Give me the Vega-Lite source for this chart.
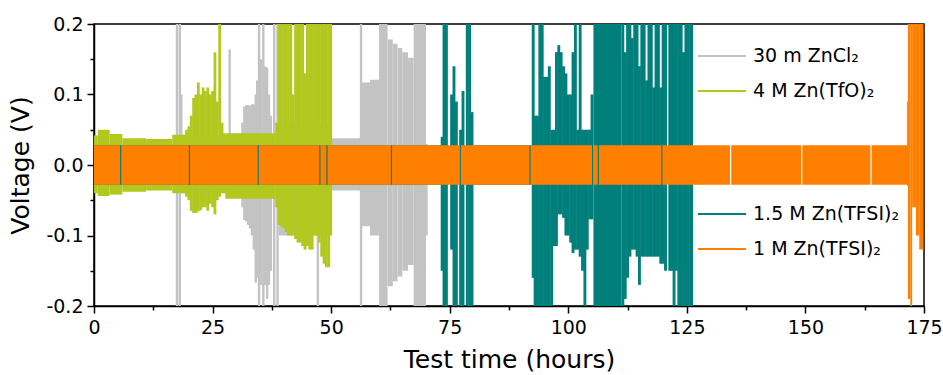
{
  "$schema": "https://vega.github.io/schema/vega-lite/v6.json",
  "width": 830,
  "height": 282,
  "autosize": {"type": "none"},
  "padding": {"left": 94, "top": 24, "right": 19, "bottom": 69},
  "background": "white",
  "config": {
    "view": {"stroke": "black", "strokeWidth": 1.5},
    "axis": {"domainColor": "black", "domainWidth": 1.5, "tickColor": "black", "tickWidth": 1.5, "labelColor": "black", "titleColor": "black", "labelFont": "DejaVu Sans", "titleFont": "DejaVu Sans", "labelFontSize": 19, "titleFontSize": 25, "titleFontWeight": "normal", "grid": false},
    "legend": {"symbolType": "stroke", "symbolSize": 2304, "symbolStrokeWidth": 2, "labelFont": "DejaVu Sans", "labelFontSize": 19, "labelColor": "black", "labelOffset": 6, "padding": 0, "labelLimit": 300}
  },
  "datasets": {
    "bands": [
      {"s": "Cl", "t": 0, "t2": 17.2, "lo": -0.03, "hi": 0.03},
      {"s": "Cl", "t": 18.4, "t2": 31, "lo": -0.04, "hi": 0.04},
      {"s": "Cl", "t": 39, "t2": 49.9, "lo": -0.1, "hi": 0.06},
      {"s": "Cl", "t": 50, "t2": 56.1, "lo": -0.036, "hi": 0.038},
      {"s": "Cl", "t": 56.5, "t2": 58.2, "lo": -0.087, "hi": 0.117},
      {"s": "Cl", "t": 58.2, "t2": 60.1, "lo": -0.1, "hi": 0.121},
      {"s": "Cl", "t": 60.1, "t2": 61.9, "lo": -0.2, "hi": 0.2},
      {"s": "Cl", "t": 61.9, "t2": 63, "lo": -0.172, "hi": 0.178},
      {"s": "Cl", "t": 63, "t2": 64, "lo": -0.165, "hi": 0.172},
      {"s": "Cl", "t": 64, "t2": 65, "lo": -0.158, "hi": 0.166},
      {"s": "Cl", "t": 65, "t2": 66.2, "lo": -0.15, "hi": 0.16},
      {"s": "Cl", "t": 66.2, "t2": 67.4, "lo": -0.142, "hi": 0.152},
      {"s": "Cl", "t": 67.4, "t2": 70, "lo": -0.2, "hi": 0.2},
      {"s": "TfO", "t": 0, "t2": 0.8, "lo": -0.04, "hi": 0.042},
      {"s": "TfO", "t": 0.8, "t2": 3.3, "lo": -0.044, "hi": 0.05},
      {"s": "TfO", "t": 3.3, "t2": 6, "lo": -0.042, "hi": 0.044},
      {"s": "TfO", "t": 6, "t2": 11, "lo": -0.038, "hi": 0.038},
      {"s": "TfO", "t": 11, "t2": 16.5, "lo": -0.036, "hi": 0.037},
      {"s": "TfO", "t": 16.5, "t2": 19.3, "lo": -0.04, "hi": 0.043},
      {"s": "TfO", "t": 27.7, "t2": 38.3, "lo": -0.048, "hi": 0.045},
      {"s": "T15", "t": 0, "t2": 73.2, "lo": -0.028, "hi": 0.028},
      {"s": "T15", "t": 80, "t2": 92.3, "lo": -0.028, "hi": 0.028},
      {"s": "T15", "t": 105.3, "t2": 111.2, "lo": -0.2, "hi": 0.2},
      {"s": "T1", "t": 0, "t2": 5.5, "lo": -0.028, "hi": 0.028},
      {"s": "T1", "t": 5.75, "t2": 20.0, "lo": -0.028, "hi": 0.028},
      {"s": "T1", "t": 20.25, "t2": 34.5, "lo": -0.028, "hi": 0.028},
      {"s": "T1", "t": 34.75, "t2": 47.5, "lo": -0.028, "hi": 0.028},
      {"s": "T1", "t": 47.75, "t2": 49.0, "lo": -0.028, "hi": 0.028},
      {"s": "T1", "t": 49.25, "t2": 62.6, "lo": -0.028, "hi": 0.028},
      {"s": "T1", "t": 62.85, "t2": 77.1, "lo": -0.028, "hi": 0.028},
      {"s": "T1", "t": 77.35, "t2": 91.8, "lo": -0.028, "hi": 0.028},
      {"s": "T1", "t": 92.05, "t2": 105.0, "lo": -0.028, "hi": 0.028},
      {"s": "T1", "t": 105.25, "t2": 106.2, "lo": -0.028, "hi": 0.028},
      {"s": "T1", "t": 106.45, "t2": 119.6, "lo": -0.028, "hi": 0.028},
      {"s": "T1", "t": 119.85, "t2": 134.1, "lo": -0.028, "hi": 0.028},
      {"s": "T1", "t": 134.35, "t2": 149.1, "lo": -0.028, "hi": 0.028},
      {"s": "T1", "t": 149.35, "t2": 163.7, "lo": -0.028, "hi": 0.028},
      {"s": "T1", "t": 163.95, "t2": 171.6, "lo": -0.028, "hi": 0.028},
      {"s": "T1", "t": 171.4, "t2": 171.6, "lo": -0.03, "hi": 0.09},
      {"s": "T1", "t": 171.6, "t2": 172.1, "lo": -0.19, "hi": 0.2},
      {"s": "T1", "t": 172.1, "t2": 172.5, "lo": -0.2, "hi": 0.2},
      {"s": "T1", "t": 172.5, "t2": 173.3, "lo": -0.06, "hi": 0.2},
      {"s": "T1", "t": 173.3, "t2": 174.0, "lo": -0.1, "hi": 0.2},
      {"s": "T1", "t": 174.0, "t2": 174.85, "lo": -0.12, "hi": 0.2}
    ],
    "spikes": [
      {"s": "Cl", "t": 17.5, "lo": -0.2, "hi": 0.2},
      {"s": "Cl", "t": 18.1, "lo": -0.2, "hi": 0.2},
      {"s": "Cl", "t": 18.4, "lo": -0.03, "hi": 0.1},
      {"s": "Cl", "t": 28.6, "lo": -0.04, "hi": 0.164},
      {"s": "Cl", "t": 31.3, "lo": -0.06, "hi": 0.06},
      {"s": "Cl", "t": 31.7, "lo": -0.078, "hi": 0.083},
      {"s": "Cl", "t": 32.1, "lo": -0.08, "hi": 0.085},
      {"s": "Cl", "t": 32.5, "lo": -0.085, "hi": 0.085},
      {"s": "Cl", "t": 32.9, "lo": -0.09, "hi": 0.084},
      {"s": "Cl", "t": 33.3, "lo": -0.1, "hi": 0.086},
      {"s": "Cl", "t": 33.7, "lo": -0.12, "hi": 0.086},
      {"s": "Cl", "t": 34.1, "lo": -0.167, "hi": 0.1},
      {"s": "Cl", "t": 34.4, "lo": -0.16, "hi": 0.12},
      {"s": "Cl", "t": 34.8, "lo": -0.2, "hi": 0.2},
      {"s": "Cl", "t": 35.2, "lo": -0.17, "hi": 0.15},
      {"s": "Cl", "t": 35.7, "lo": -0.2, "hi": 0.2},
      {"s": "Cl", "t": 36.1, "lo": -0.17, "hi": 0.14},
      {"s": "Cl", "t": 36.5, "lo": -0.19, "hi": 0.138},
      {"s": "Cl", "t": 36.9, "lo": -0.17, "hi": 0.1},
      {"s": "Cl", "t": 37.3, "lo": -0.15, "hi": 0.07},
      {"s": "Cl", "t": 38.0, "lo": -0.2, "hi": 0.2},
      {"s": "Cl", "t": 38.7, "lo": -0.2, "hi": 0.2},
      {"s": "Cl", "t": 47.2, "lo": -0.2, "hi": 0.2},
      {"s": "Cl", "t": 56.3, "lo": -0.2, "hi": 0.2},
      {"s": "Cl", "t": 70.1, "lo": -0.1, "hi": 0.03},
      {"s": "TfO", "t": 19.5, "lo": -0.045, "hi": 0.05},
      {"s": "TfO", "t": 20.0, "lo": -0.05, "hi": 0.055},
      {"s": "TfO", "t": 20.5, "lo": -0.065, "hi": 0.07},
      {"s": "TfO", "t": 21.0, "lo": -0.068, "hi": 0.095},
      {"s": "TfO", "t": 21.5, "lo": -0.068, "hi": 0.1},
      {"s": "TfO", "t": 22.0, "lo": -0.066, "hi": 0.117},
      {"s": "TfO", "t": 22.5, "lo": -0.064, "hi": 0.1},
      {"s": "TfO", "t": 23.0, "lo": -0.06, "hi": 0.11},
      {"s": "TfO", "t": 23.5, "lo": -0.06, "hi": 0.105},
      {"s": "TfO", "t": 24.0, "lo": -0.065, "hi": 0.11},
      {"s": "TfO", "t": 24.5, "lo": -0.055, "hi": 0.1},
      {"s": "TfO", "t": 25.0, "lo": -0.06, "hi": 0.105},
      {"s": "TfO", "t": 25.5, "lo": -0.07, "hi": 0.16},
      {"s": "TfO", "t": 26.0, "lo": -0.05, "hi": 0.09},
      {"s": "TfO", "t": 26.5, "lo": -0.045, "hi": 0.2},
      {"s": "TfO", "t": 27.0, "lo": -0.04, "hi": 0.06},
      {"s": "TfO", "t": 27.5, "lo": -0.04, "hi": 0.045},
      {"s": "TfO", "t": 38.5, "lo": -0.06, "hi": 0.06},
      {"s": "TfO", "t": 39.0, "lo": -0.085, "hi": 0.2},
      {"s": "TfO", "t": 39.5, "lo": -0.087, "hi": 0.2},
      {"s": "TfO", "t": 40.0, "lo": -0.09, "hi": 0.2},
      {"s": "TfO", "t": 40.5, "lo": -0.095, "hi": 0.2},
      {"s": "TfO", "t": 41.0, "lo": -0.1, "hi": 0.2},
      {"s": "TfO", "t": 41.5, "lo": -0.1, "hi": 0.2},
      {"s": "TfO", "t": 42.0, "lo": -0.1, "hi": 0.1},
      {"s": "TfO", "t": 42.5, "lo": -0.105, "hi": 0.2},
      {"s": "TfO", "t": 43.0, "lo": -0.11, "hi": 0.2},
      {"s": "TfO", "t": 43.5, "lo": -0.11, "hi": 0.2},
      {"s": "TfO", "t": 44.0, "lo": -0.115, "hi": 0.2},
      {"s": "TfO", "t": 44.5, "lo": -0.12, "hi": 0.13},
      {"s": "TfO", "t": 45.0, "lo": -0.115, "hi": 0.2},
      {"s": "TfO", "t": 45.5, "lo": -0.12, "hi": 0.2},
      {"s": "TfO", "t": 46.0, "lo": -0.12, "hi": 0.2},
      {"s": "TfO", "t": 46.5, "lo": -0.1, "hi": 0.2},
      {"s": "TfO", "t": 47.0, "lo": -0.1, "hi": 0.2},
      {"s": "TfO", "t": 47.5, "lo": -0.11, "hi": 0.2},
      {"s": "TfO", "t": 48.0, "lo": -0.13, "hi": 0.2},
      {"s": "TfO", "t": 48.5, "lo": -0.14, "hi": 0.2},
      {"s": "TfO", "t": 49.0, "lo": -0.145, "hi": 0.2},
      {"s": "TfO", "t": 49.5, "lo": -0.145, "hi": 0.2},
      {"s": "TfO", "t": 49.9, "lo": -0.1, "hi": 0.2},
      {"s": "T15", "t": 73.4, "lo": -0.15, "hi": 0.04},
      {"s": "T15", "t": 73.8, "lo": -0.2, "hi": 0.2},
      {"s": "T15", "t": 74.3, "lo": -0.2, "hi": 0.2},
      {"s": "T15", "t": 75.4, "lo": -0.12, "hi": 0.1},
      {"s": "T15", "t": 75.9, "lo": -0.2, "hi": 0.14},
      {"s": "T15", "t": 76.4, "lo": -0.2, "hi": 0.09},
      {"s": "T15", "t": 77.3, "lo": -0.2, "hi": 0.05},
      {"s": "T15", "t": 77.8, "lo": -0.2, "hi": 0.105},
      {"s": "T15", "t": 78.7, "lo": -0.2, "hi": 0.2},
      {"s": "T15", "t": 79.2, "lo": -0.2, "hi": 0.2},
      {"s": "T15", "t": 79.7, "lo": -0.2, "hi": 0.075},
      {"s": "T15", "t": 92.6, "lo": -0.16, "hi": 0.2},
      {"s": "T15", "t": 93.0, "lo": -0.2, "hi": 0.07},
      {"s": "T15", "t": 93.5, "lo": -0.2, "hi": 0.07},
      {"s": "T15", "t": 94.0, "lo": -0.2, "hi": 0.2},
      {"s": "T15", "t": 94.5, "lo": -0.2, "hi": 0.2},
      {"s": "T15", "t": 95.0, "lo": -0.2, "hi": 0.125},
      {"s": "T15", "t": 95.5, "lo": -0.2, "hi": 0.125},
      {"s": "T15", "t": 96.0, "lo": -0.2, "hi": 0.14},
      {"s": "T15", "t": 96.5, "lo": -0.2, "hi": 0.05},
      {"s": "T15", "t": 97.0, "lo": -0.115, "hi": 0.05},
      {"s": "T15", "t": 97.5, "lo": -0.115, "hi": 0.16},
      {"s": "T15", "t": 98.0, "lo": -0.07, "hi": 0.17},
      {"s": "T15", "t": 98.5, "lo": -0.07, "hi": 0.16},
      {"s": "T15", "t": 99.0, "lo": -0.075, "hi": 0.14},
      {"s": "T15", "t": 99.5, "lo": -0.1, "hi": 0.13},
      {"s": "T15", "t": 100.0, "lo": -0.1, "hi": 0.1},
      {"s": "T15", "t": 100.5, "lo": -0.11, "hi": 0.1},
      {"s": "T15", "t": 101.0, "lo": -0.125, "hi": 0.16},
      {"s": "T15", "t": 101.5, "lo": -0.12, "hi": 0.2},
      {"s": "T15", "t": 102.0, "lo": -0.12, "hi": 0.05},
      {"s": "T15", "t": 102.5, "lo": -0.13, "hi": 0.2},
      {"s": "T15", "t": 103.0, "lo": -0.15, "hi": 0.05},
      {"s": "T15", "t": 103.5, "lo": -0.2, "hi": 0.05},
      {"s": "T15", "t": 104.0, "lo": -0.12, "hi": 0.05},
      {"s": "T15", "t": 104.5, "lo": -0.077, "hi": 0.05},
      {"s": "T15", "t": 105.0, "lo": -0.077, "hi": 0.1},
      {"s": "T15", "t": 111.5, "lo": -0.2, "hi": 0.2},
      {"s": "T15", "t": 112.0, "lo": -0.19, "hi": 0.16},
      {"s": "T15", "t": 112.5, "lo": -0.16, "hi": 0.2},
      {"s": "T15", "t": 113.0, "lo": -0.13, "hi": 0.2},
      {"s": "T15", "t": 113.5, "lo": -0.12, "hi": 0.18},
      {"s": "T15", "t": 114.0, "lo": -0.12, "hi": 0.2},
      {"s": "T15", "t": 114.5, "lo": -0.13, "hi": 0.2},
      {"s": "T15", "t": 115.0, "lo": -0.17, "hi": 0.14},
      {"s": "T15", "t": 115.5, "lo": -0.13, "hi": 0.2},
      {"s": "T15", "t": 116.0, "lo": -0.13, "hi": 0.2},
      {"s": "T15", "t": 116.5, "lo": -0.13, "hi": 0.12},
      {"s": "T15", "t": 117.0, "lo": -0.13, "hi": 0.2},
      {"s": "T15", "t": 117.5, "lo": -0.13, "hi": 0.2},
      {"s": "T15", "t": 118.0, "lo": -0.13, "hi": 0.11},
      {"s": "T15", "t": 118.5, "lo": -0.13, "hi": 0.2},
      {"s": "T15", "t": 119.0, "lo": -0.13, "hi": 0.2},
      {"s": "T15", "t": 119.5, "lo": -0.14, "hi": 0.11},
      {"s": "T15", "t": 120.0, "lo": -0.14, "hi": 0.2},
      {"s": "T15", "t": 120.5, "lo": -0.15, "hi": 0.2},
      {"s": "T15", "t": 121.4, "lo": -0.15, "hi": 0.2},
      {"s": "T15", "t": 121.8, "lo": -0.15, "hi": 0.2},
      {"s": "T15", "t": 122.3, "lo": -0.2, "hi": 0.2},
      {"s": "T15", "t": 122.8, "lo": -0.15, "hi": 0.2},
      {"s": "T15", "t": 123.3, "lo": -0.2, "hi": 0.2},
      {"s": "T15", "t": 123.8, "lo": -0.2, "hi": 0.2},
      {"s": "T15", "t": 124.3, "lo": -0.2, "hi": 0.16},
      {"s": "T15", "t": 124.8, "lo": -0.2, "hi": 0.2},
      {"s": "T15", "t": 125.3, "lo": -0.2, "hi": 0.2},
      {"s": "T15", "t": 125.8, "lo": -0.2, "hi": 0.2},
      {"s": "T15", "t": 126.0, "lo": -0.2, "hi": 0.2}
    ]
  },
  "layer": [
    {
      "data": {"name": "bands"},
      "transform": [{"filter": "datum.s === 'Cl'"}],
      "mark": {"type": "rect", "clip": true},
      "encoding": {
        "x": {"field": "t", "type": "quantitative", "scale": {"domain": [0, 175], "nice": false, "zero": false}, "axis": {"orient": "bottom", "values": [0, 25, 50, 75, 100, 125, 150, 175], "title": "Test time (hours)", "tickSize": 7, "labelPadding": 5, "titlePadding": 10, "labelFlush": false, "labelOverlap": false}},
        "x2": {"field": "t2"},
        "y": {"field": "lo", "type": "quantitative", "scale": {"domain": [-0.2, 0.2], "nice": false, "zero": false}, "axis": {"orient": "left", "values": [-0.2, -0.1, 0, 0.1, 0.2], "title": "Voltage (V)", "tickSize": 7, "labelPadding": 4, "titlePadding": 12, "labelFlush": false, "labelOverlap": false, "labelExpr": "replace(format(datum.value, '.1f'), '\u2212', '-')"}},
        "y2": {"field": "hi"},
        "fill": {"field": "s", "type": "nominal", "scale": {"domain": ["Cl", "TfO", "T15", "T1"], "range": ["#c3c3c3", "#b2c81f", "#007f7b", "#ff8000"]}, "legend": null}
      }
    },
    {
      "data": {"name": "spikes"},
      "transform": [{"filter": "datum.s === 'Cl'"}],
      "mark": {"type": "rule", "strokeWidth": 2.4, "clip": true},
      "encoding": {
        "x": {"field": "t", "type": "quantitative", "axis": {"orient": "bottom", "values": [12.5, 37.5, 62.5, 87.5, 112.5, 137.5, 162.5], "labels": false, "tickSize": 4, "domain": false, "title": null}},
        "y": {"field": "lo", "type": "quantitative", "axis": {"orient": "left", "values": [-0.15, -0.05, 0.05, 0.15], "labels": false, "tickSize": 4, "domain": false, "title": null}},
        "y2": {"field": "hi"},
        "stroke": {"field": "s", "type": "nominal", "scale": {"domain": ["Cl", "TfO"], "range": ["#c3c3c3", "#b2c81f"]}, "legend": {"title": null, "orient": "none", "legendX": 603, "legendY": 7, "rowPadding": -17, "labelExpr": "datum.label === 'Cl' ? '30 m ZnCl\u2082' : '4 M Zn(TfO)\u2082'"}}
      }
    },
    {
      "data": {"name": "bands"},
      "transform": [{"filter": "datum.s === 'TfO'"}],
      "mark": {"type": "rect", "clip": true},
      "encoding": {
        "x": {"field": "t", "type": "quantitative", "axis": null},
        "x2": {"field": "t2"},
        "y": {"field": "lo", "type": "quantitative", "axis": null},
        "y2": {"field": "hi"},
        "fill": {"field": "s", "type": "nominal", "scale": {"domain": ["Cl", "TfO", "T15", "T1"], "range": ["#c3c3c3", "#b2c81f", "#007f7b", "#ff8000"]}, "legend": null}
      }
    },
    {
      "data": {"name": "spikes"},
      "transform": [{"filter": "datum.s === 'TfO'"}],
      "mark": {"type": "rule", "strokeWidth": 2.8, "clip": true},
      "encoding": {
        "x": {"field": "t", "type": "quantitative", "axis": null},
        "y": {"field": "lo", "type": "quantitative", "axis": null},
        "y2": {"field": "hi"},
        "stroke": {"field": "s", "type": "nominal", "scale": {"domain": ["Cl", "TfO"], "range": ["#c3c3c3", "#b2c81f"]}}
      }
    },
    {
      "data": {"name": "bands"},
      "transform": [{"filter": "datum.s === 'T15'"}],
      "mark": {"type": "rect", "clip": true},
      "encoding": {
        "x": {"field": "t", "type": "quantitative", "axis": null},
        "x2": {"field": "t2"},
        "y": {"field": "lo", "type": "quantitative", "axis": null},
        "y2": {"field": "hi"},
        "fill": {"field": "s", "type": "nominal", "scale": {"domain": ["Cl", "TfO", "T15", "T1"], "range": ["#c3c3c3", "#b2c81f", "#007f7b", "#ff8000"]}, "legend": null}
      }
    },
    {
      "data": {"name": "spikes"},
      "transform": [{"filter": "datum.s === 'T15'"}],
      "mark": {"type": "rule", "strokeWidth": 2.9, "clip": true},
      "encoding": {
        "x": {"field": "t", "type": "quantitative", "axis": null},
        "y": {"field": "lo", "type": "quantitative", "axis": null},
        "y2": {"field": "hi"},
        "color": {"field": "s", "type": "nominal", "scale": {"domain": ["T15", "T1"], "range": ["#007f7b", "#ff8000"]}, "legend": {"title": null, "orient": "none", "legendX": 603, "legendY": 165, "rowPadding": -15, "labelExpr": "datum.label === 'T15' ? '1.5 M Zn(TFSI)\u2082' : '1 M Zn(TFSI)\u2082'"}}
      }
    },
    {
      "data": {"name": "bands"},
      "transform": [{"filter": "datum.s === 'T1'"}],
      "mark": {"type": "rect", "clip": true},
      "encoding": {
        "x": {"field": "t", "type": "quantitative", "axis": null},
        "x2": {"field": "t2"},
        "y": {"field": "lo", "type": "quantitative", "axis": null},
        "y2": {"field": "hi"},
        "fill": {"field": "s", "type": "nominal", "scale": {"domain": ["Cl", "TfO", "T15", "T1"], "range": ["#c3c3c3", "#b2c81f", "#007f7b", "#ff8000"]}, "legend": null}
      }
    }
  ],
  "resolve": {"axis": {"x": "independent", "y": "independent"}}
}
